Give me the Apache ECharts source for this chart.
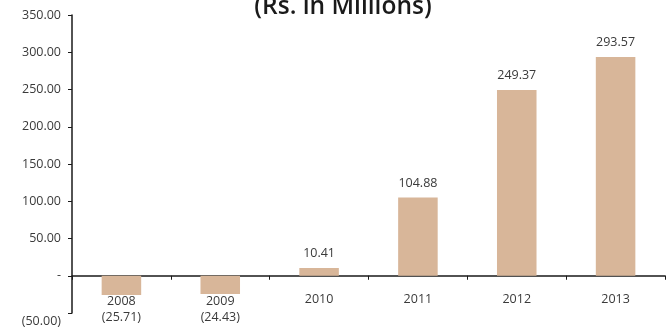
<!DOCTYPE html>
<html>
<head>
<meta charset="utf-8">
<script src="https://cdn.jsdelivr.net/npm/echarts@6/dist/echarts.min.js"></script>
<style>
  html, body { margin: 0; padding: 0; background: #fff; }
  #chart { width: 669px; height: 329px; }
</style>
</head>
<body>
<div id="chart"></div>
<script>
// Yearly figures, Rs. in millions
const years = ['2008', '2009', '2010', '2011', '2012', '2013'];
const values = [-25.71, -24.43, 10.41, 104.88, 249.37, 293.57];

// Accounting-style number: negatives in parentheses, zero as a dash
function fmt(v) {
  if (v === 0) return '-';
  const s = Math.abs(v).toFixed(2);
  return v < 0 ? '(' + s + ')' : s;
}

const chart = echarts.init(document.getElementById('chart'));
chart.setOption({
  backgroundColor: '#ffffff',
  animation: false,
  title: {
    text: '(Rs. in Millions)',
    left: 338,
    textAlign: 'center',
    top: -10,
    textStyle: { fontFamily: 'Open Sans', fontSize: 24.5, fontWeight: 600, color: '#1a1a1a' }
  },
  grid: { left: 72, right: 4, top: 15, bottom: 16, outerBoundsMode: 'none', containLabel: false },
  xAxis: {
    type: 'category',
    data: years,
    axisLine: { onZero: true, lineStyle: { color: '#1a1a1a', width: 1.5 } },
    axisTick: { show: true, length: 4, lineStyle: { color: '#1a1a1a' } },
    axisLabel: {
      // year labels sit just under the zero line, between it and the plot floor
      margin: -21,
      fontFamily: 'Open Sans',
      fontSize: 12.5,
      color: '#3a3a3a',
      lineHeight: 14,
      formatter: function (name, idx) {
        const v = values[idx];
        return v < 0 ? '{neg|' + name + '\n' + fmt(v) + '}' : name;
      },
      rich: {
        neg: { fontFamily: 'Open Sans', fontSize: 12.5, color: '#3a3a3a', lineHeight: 16, padding: [3, 0, 0, 0] }
      }
    }
  },
  yAxis: {
    type: 'value',
    min: -50,
    max: 350,
    interval: 50,
    splitLine: { show: false },
    axisLine: { show: true, lineStyle: { color: '#1a1a1a', width: 1.5 } },
    axisTick: { show: true, length: 4, lineStyle: { color: '#1a1a1a' } },
    axisLabel: {
      margin: 11,
      fontFamily: 'Open Sans',
      fontSize: 12.5,
      color: '#3a3a3a',
      formatter: function (v) {
        return v < 0 ? '{neg|' + fmt(v) + '}' : fmt(v);
      },
      rich: {
        neg: { fontFamily: 'Open Sans', fontSize: 12.5, color: '#3a3a3a', padding: [16, 0, 0, 0] }
      }
    }
  },
  series: [{
    type: 'bar',
    data: values,
    barWidth: '40%',
    itemStyle: { color: '#d8b699' },
    label: {
      show: true,
      position: 'top',
      distance: 8,
      fontFamily: 'Open Sans',
      fontSize: 12.5,
      color: '#3a3a3a',
      formatter: function (p) { return p.value > 0 ? fmt(p.value) : ''; }
    }
  }]
});
</script>
</body>
</html>
